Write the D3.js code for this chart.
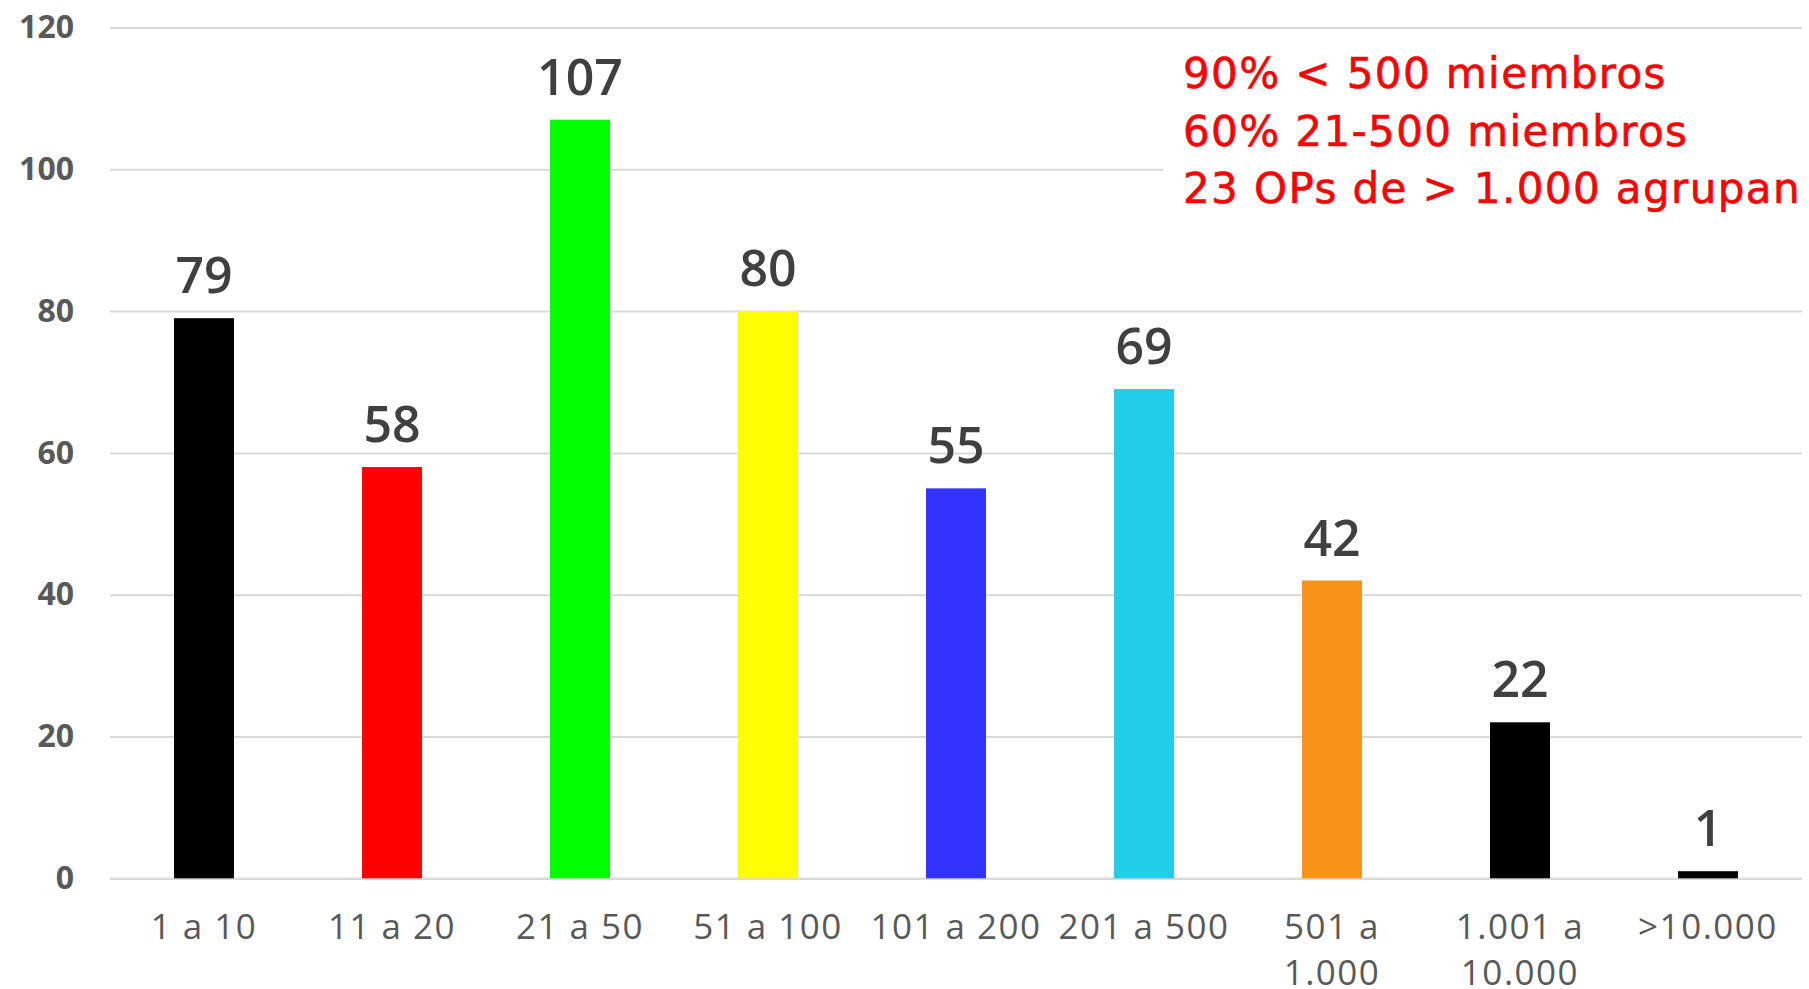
<!DOCTYPE html>
<html>
<head>
<meta charset="utf-8">
<script src="https://d3js.org/d3.v7.min.js"></script>
<style>
  body { margin: 0; background: #ffffff; overflow: hidden; }
  svg { display: block; }
</style>
</head>
<body>
<div class="container"></div>
<script>
// Data
var CATEGORIES = [['1 a 10'], ['11 a 20'], ['21 a 50'], ['51 a 100'], ['101 a 200'], ['201 a 500'], ['501 a', '1.000'], ['1.001 a', '10.000'], ['>10.000']];
var VALUES = [79, 58, 107, 80, 55, 69, 42, 22, 1];
var BAR_COLORS = ['#000000', '#ff0000', '#00ff00', '#ffff00', '#3333ff', '#22cde8', '#f79318', '#000000', '#000000'];
var Y_TICKS = [0, 20, 40, 60, 80, 100, 120];
var NOTES = ['90% < 500 miembros', '60% 21-500 miembros', '23 OPs de > 1.000 agrupan'];

// Config
var WIDTH = 1809;
var HEIGHT = 989;
var FONT = "'Open Sans', 'Noto Sans', sans-serif";
var NOTE_FONT = "'DejaVu Sans', Verdana, sans-serif";

var margin = {top: 27.5, right: 7, bottom: 110.7, left: 110};
var plotW = WIDTH - margin.left - margin.right;
var plotH = HEIGHT - margin.top - margin.bottom;

var svg = d3.select('.container').append('svg')
    .attr('width', WIDTH)
    .attr('height', HEIGHT);

var g = svg.append('g')
    .attr('transform', 'translate(' + margin.left + ',' + margin.top + ')');

var keys = CATEGORIES.map(function(c) { return c.join(' '); });

// Scales
var xScale = d3.scaleBand()
    .domain(keys)
    .range([0, plotW])
    .paddingInner(0.681)
    .paddingOuter(0.3405);

var yScale = d3.scaleLinear()
    .domain([0, 120])
    .range([plotH, 0]);

// Gridlines (the 0 line doubles as the baseline)
g.append('g')
    .attr('class', 'grid')
    .call(d3.axisLeft(yScale).tickValues(Y_TICKS).tickSize(-plotW).tickFormat(''))
    .call(function(sel) { sel.select('.domain').remove(); })
    .selectAll('line')
      .attr('stroke', '#d9d9d9')
      .attr('stroke-width', function(d) { return d === 0 ? 2.5 : 2; });

// Y axis labels
var yAxis = g.append('g')
    .attr('transform', 'translate(-36,0)')
    .call(d3.axisLeft(yScale).tickValues(Y_TICKS).tickSize(0).tickPadding(0));
yAxis.select('.domain').remove();
yAxis.selectAll('text')
    .attr('fill', '#595959')
    .style('font', 'bold 32px ' + FONT);

// Bars
g.selectAll('.bar')
    .data(VALUES)
    .enter().append('rect')
    .attr('class', 'bar')
    .attr('x', function(d, i) { return xScale(keys[i]); })
    .attr('y', function(d) { return yScale(d); })
    .attr('width', xScale.bandwidth())
    .attr('height', function(d) { return yScale(0) - yScale(d); })
    .attr('fill', function(d, i) { return BAR_COLORS[i]; });

// Value labels on top of bars
g.selectAll('.value')
    .data(VALUES)
    .enter().append('text')
    .attr('class', 'value')
    .attr('x', function(d, i) { return xScale(keys[i]) + xScale.bandwidth() / 2; })
    .attr('y', function(d) { return yScale(d) - 25; })
    .attr('text-anchor', 'middle')
    .attr('fill', '#404040')
    .style('font', '600 50px ' + FONT)
    .text(function(d) { return d; });

// Category labels, some on two lines
var xLabels = g.selectAll('.xlabel')
    .data(CATEGORIES)
    .enter().append('text')
    .attr('class', 'xlabel')
    .attr('x', function(d, i) { return xScale(keys[i]) + xScale.bandwidth() / 2; })
    .attr('y', plotH + 61)
    .attr('text-anchor', 'middle')
    .attr('fill', '#595959')
    .style('font', '35px ' + FONT)
    .style('letter-spacing', '1.5px');

xLabels.selectAll('tspan')
    .data(function(d) { return d; })
    .enter().append('tspan')
    .attr('x', function() { return d3.select(this.parentNode).attr('x'); })
    .attr('dy', function(d, i) { return i === 0 ? 0 : 46; })
    .text(function(d) { return d; });

// Text box with notes (white background hides the grid behind it)
svg.append('rect')
    .attr('x', 1163)
    .attr('y', 38)
    .attr('width', WIDTH - 1163)
    .attr('height', 185)
    .attr('fill', '#ffffff');

svg.append('g')
    .selectAll('text')
    .data(NOTES)
    .enter().append('text')
    .attr('x', 1183)
    .attr('y', function(d, i) { return 88 + i * 57.6; })
    .attr('fill', '#ff0000')
    .style('font', '42px ' + NOTE_FONT)
    .style('letter-spacing', '1.4px')
    .style('stroke', '#ff0000')
    .style('stroke-width', '0.6px')
    .text(function(d) { return d; });
</script>
</body>
</html>
